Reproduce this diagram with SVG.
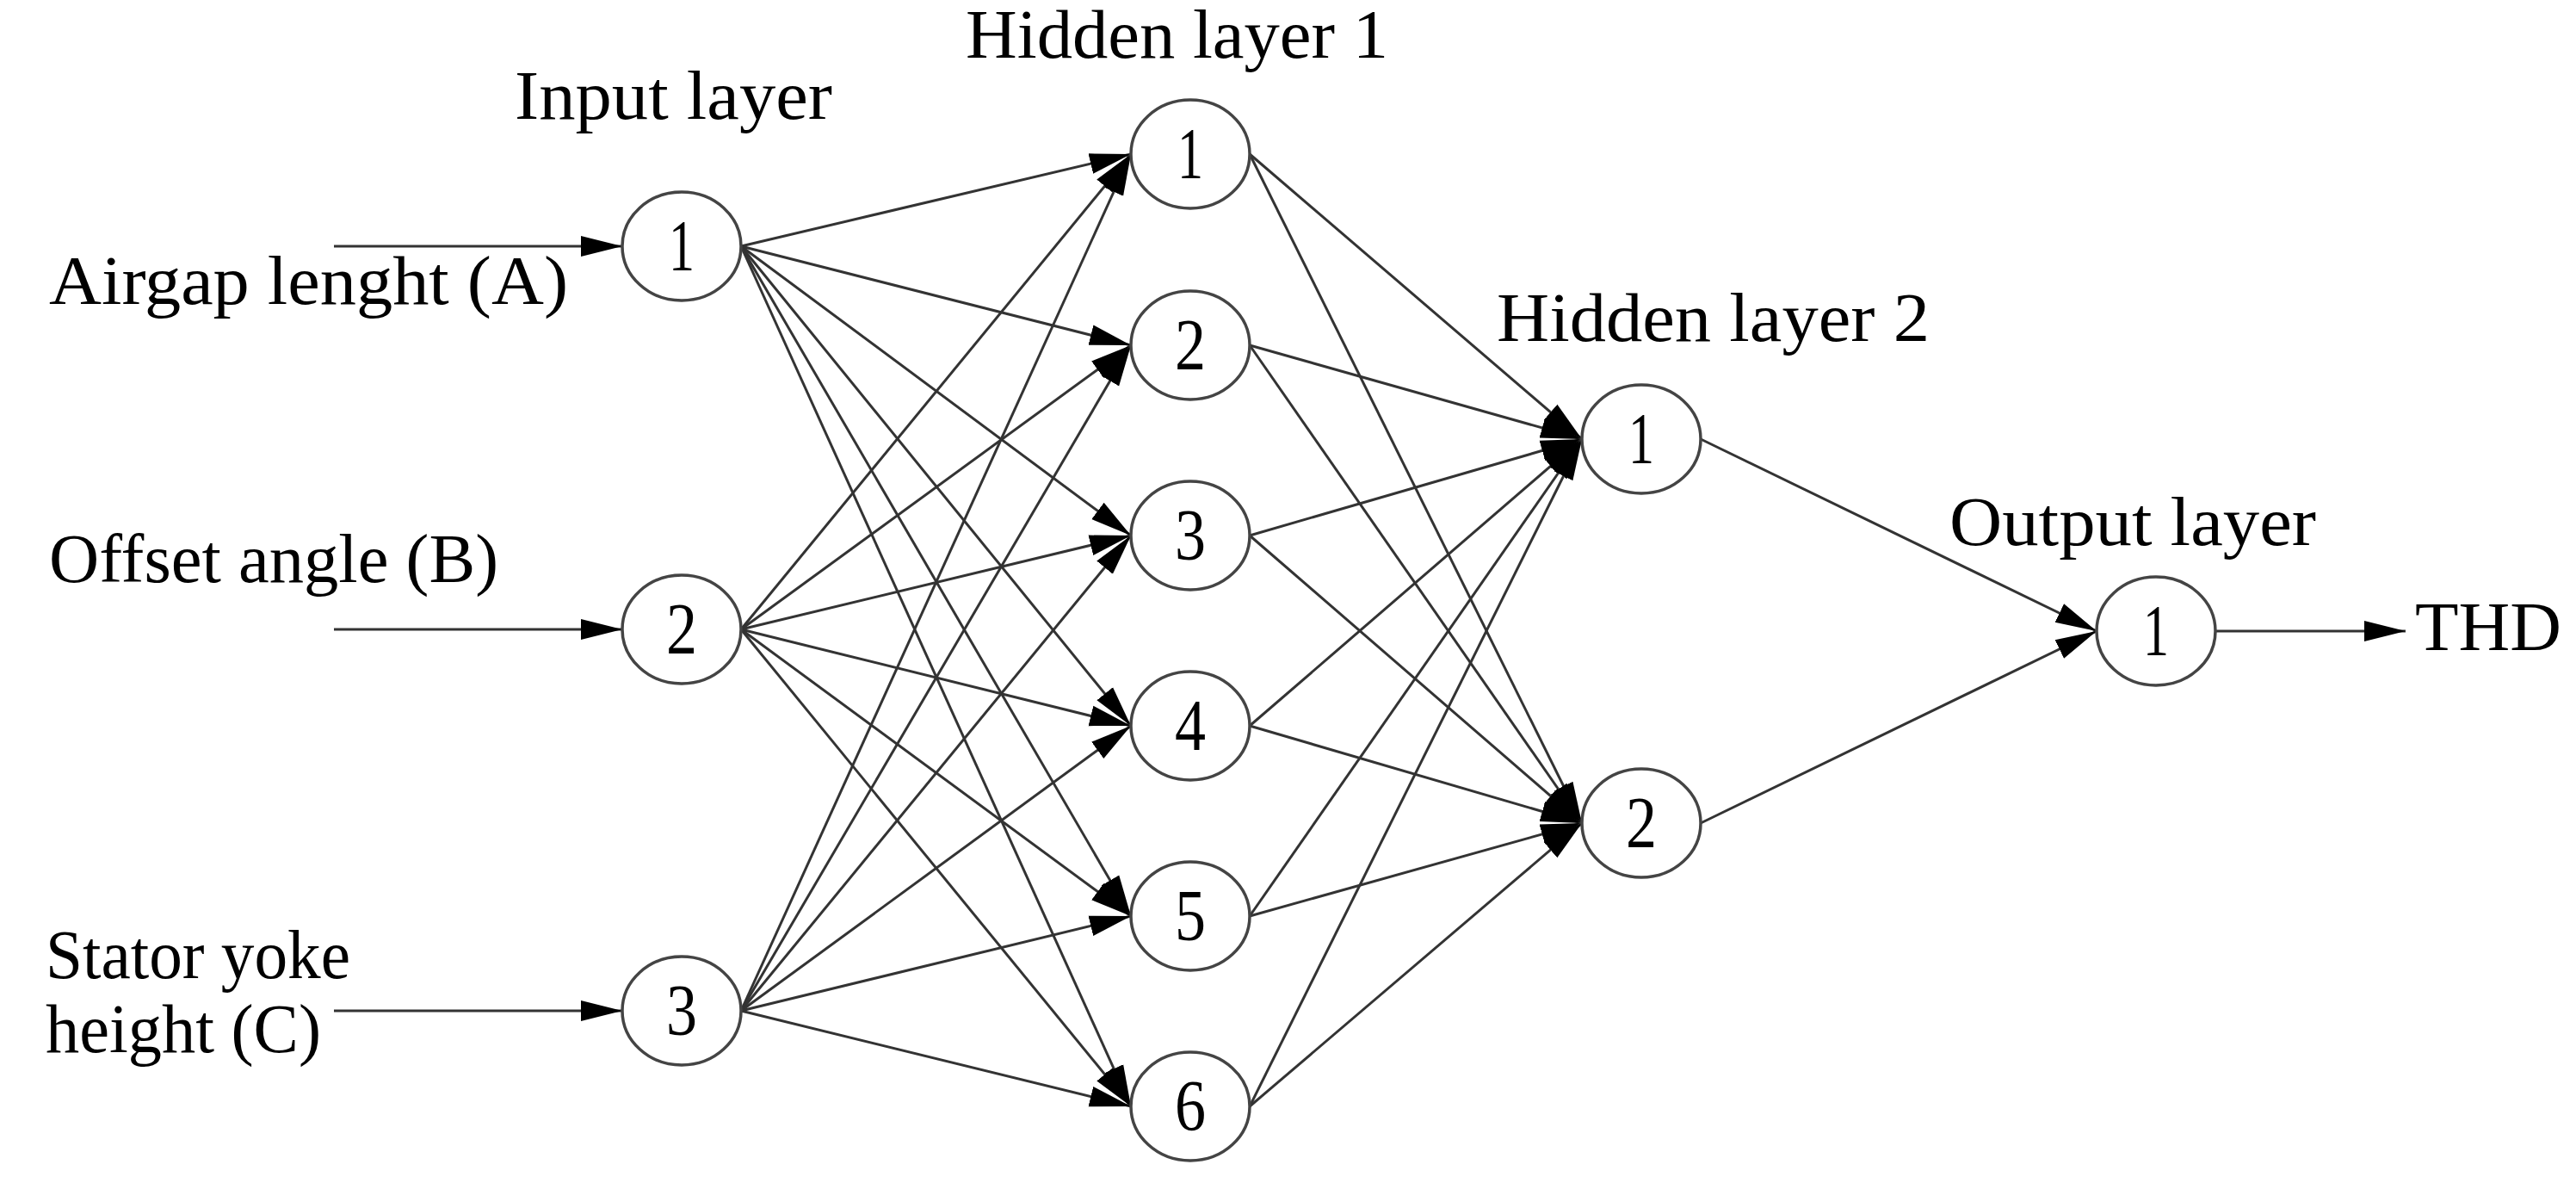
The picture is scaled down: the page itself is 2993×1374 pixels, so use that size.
<svg xmlns="http://www.w3.org/2000/svg" width="2993" height="1374" viewBox="0 0 2993 1374">
<style>
.n{fill:#fff;stroke:#444;stroke-width:3.5}
.t{font-family:"Liberation Serif","Times New Roman",serif;font-size:80px;fill:#000}
.d{font-family:"Liberation Serif","Times New Roman",serif;font-size:84px;fill:#000;text-anchor:middle}
.e{stroke:#333;stroke-width:3;fill:none;marker-end:url(#a)}
</style>
<defs>
<marker id="a" markerUnits="userSpaceOnUse" markerWidth="50" markerHeight="30" refX="48" refY="15" orient="auto"><path d="M0,3 L48,15 L0,27 Z" fill="#000"/></marker>
</defs>
<rect width="2993" height="1374" fill="#fff"/>
<g id="connectors">
<line class="e" x1="388" y1="286" x2="723" y2="286"/>
<line class="e" x1="388" y1="731" x2="723" y2="731"/>
<line class="e" x1="388" y1="1174" x2="723" y2="1174"/>
<line class="e" x1="861" y1="286" x2="1314" y2="179"/><line class="e" x1="861" y1="286" x2="1314" y2="401"/><line class="e" x1="861" y1="286" x2="1314" y2="622"/><line class="e" x1="861" y1="286" x2="1314" y2="843"/><line class="e" x1="861" y1="286" x2="1314" y2="1064"/><line class="e" x1="861" y1="286" x2="1314" y2="1285"/>
<line class="e" x1="861" y1="731" x2="1314" y2="179"/><line class="e" x1="861" y1="731" x2="1314" y2="401"/><line class="e" x1="861" y1="731" x2="1314" y2="622"/><line class="e" x1="861" y1="731" x2="1314" y2="843"/><line class="e" x1="861" y1="731" x2="1314" y2="1064"/><line class="e" x1="861" y1="731" x2="1314" y2="1285"/>
<line class="e" x1="861" y1="1174" x2="1314" y2="179"/><line class="e" x1="861" y1="1174" x2="1314" y2="401"/><line class="e" x1="861" y1="1174" x2="1314" y2="622"/><line class="e" x1="861" y1="1174" x2="1314" y2="843"/><line class="e" x1="861" y1="1174" x2="1314" y2="1064"/><line class="e" x1="861" y1="1174" x2="1314" y2="1285"/>
<line class="e" x1="1452" y1="179" x2="1838" y2="510"/><line class="e" x1="1452" y1="179" x2="1838" y2="956"/>
<line class="e" x1="1452" y1="401" x2="1838" y2="510"/><line class="e" x1="1452" y1="401" x2="1838" y2="956"/>
<line class="e" x1="1452" y1="622" x2="1838" y2="510"/><line class="e" x1="1452" y1="622" x2="1838" y2="956"/>
<line class="e" x1="1452" y1="843" x2="1838" y2="510"/><line class="e" x1="1452" y1="843" x2="1838" y2="956"/>
<line class="e" x1="1452" y1="1064" x2="1838" y2="510"/><line class="e" x1="1452" y1="1064" x2="1838" y2="956"/>
<line class="e" x1="1452" y1="1285" x2="1838" y2="510"/><line class="e" x1="1452" y1="1285" x2="1838" y2="956"/>
<line class="e" x1="1976" y1="510" x2="2436" y2="733"/><line class="e" x1="1976" y1="956" x2="2436" y2="733"/>
<line class="e" x1="2574" y1="733" x2="2795" y2="733"/>
</g>
<g id="labels">
<text class="t" x="598" y="138" textLength="369" lengthAdjust="spacingAndGlyphs">Input layer</text>
<text class="t" x="1122" y="67" textLength="491" lengthAdjust="spacingAndGlyphs">Hidden layer 1</text>
<text class="t" x="1739" y="396" textLength="503" lengthAdjust="spacingAndGlyphs">Hidden layer 2</text>
<text class="t" x="2265" y="633" textLength="426" lengthAdjust="spacingAndGlyphs">Output layer</text>
<text class="t" x="57" y="353" textLength="603" lengthAdjust="spacingAndGlyphs">Airgap lenght (A)</text>
<text class="t" x="57" y="676" textLength="522" lengthAdjust="spacingAndGlyphs">Offset angle (B)</text>
<text class="t" x="53" y="1136" textLength="354" lengthAdjust="spacingAndGlyphs">Stator yoke</text>
<text class="t" x="53" y="1222" textLength="320" lengthAdjust="spacingAndGlyphs">height (C)</text>
<text class="t" x="2806" y="755" textLength="170" lengthAdjust="spacingAndGlyphs">THD</text>
</g>
<g id="in1"><ellipse class="n" cx="792" cy="286" rx="69" ry="63"/><text class="d" x="792" y="314" textLength="30" lengthAdjust="spacingAndGlyphs">1</text></g>
<g id="in2"><ellipse class="n" cx="792" cy="731" rx="69" ry="63"/><text class="d" x="792" y="759" textLength="36" lengthAdjust="spacingAndGlyphs">2</text></g>
<g id="in3"><ellipse class="n" cx="792" cy="1174" rx="69" ry="63"/><text class="d" x="792" y="1202" textLength="36" lengthAdjust="spacingAndGlyphs">3</text></g>
<g id="h1_1"><ellipse class="n" cx="1383" cy="179" rx="69" ry="63"/><text class="d" x="1383" y="207" textLength="30" lengthAdjust="spacingAndGlyphs">1</text></g>
<g id="h1_2"><ellipse class="n" cx="1383" cy="401" rx="69" ry="63"/><text class="d" x="1383" y="429" textLength="36" lengthAdjust="spacingAndGlyphs">2</text></g>
<g id="h1_3"><ellipse class="n" cx="1383" cy="622" rx="69" ry="63"/><text class="d" x="1383" y="650" textLength="36" lengthAdjust="spacingAndGlyphs">3</text></g>
<g id="h1_4"><ellipse class="n" cx="1383" cy="843" rx="69" ry="63"/><text class="d" x="1383" y="871" textLength="36" lengthAdjust="spacingAndGlyphs">4</text></g>
<g id="h1_5"><ellipse class="n" cx="1383" cy="1064" rx="69" ry="63"/><text class="d" x="1383" y="1092" textLength="36" lengthAdjust="spacingAndGlyphs">5</text></g>
<g id="h1_6"><ellipse class="n" cx="1383" cy="1285" rx="69" ry="63"/><text class="d" x="1383" y="1313" textLength="36" lengthAdjust="spacingAndGlyphs">6</text></g>
<g id="h2_1"><ellipse class="n" cx="1907" cy="510" rx="69" ry="63"/><text class="d" x="1907" y="538" textLength="30" lengthAdjust="spacingAndGlyphs">1</text></g>
<g id="h2_2"><ellipse class="n" cx="1907" cy="956" rx="69" ry="63"/><text class="d" x="1907" y="984" textLength="36" lengthAdjust="spacingAndGlyphs">2</text></g>
<g id="out1"><ellipse class="n" cx="2505" cy="733" rx="69" ry="63"/><text class="d" x="2505" y="761" textLength="30" lengthAdjust="spacingAndGlyphs">1</text></g>
</svg>
